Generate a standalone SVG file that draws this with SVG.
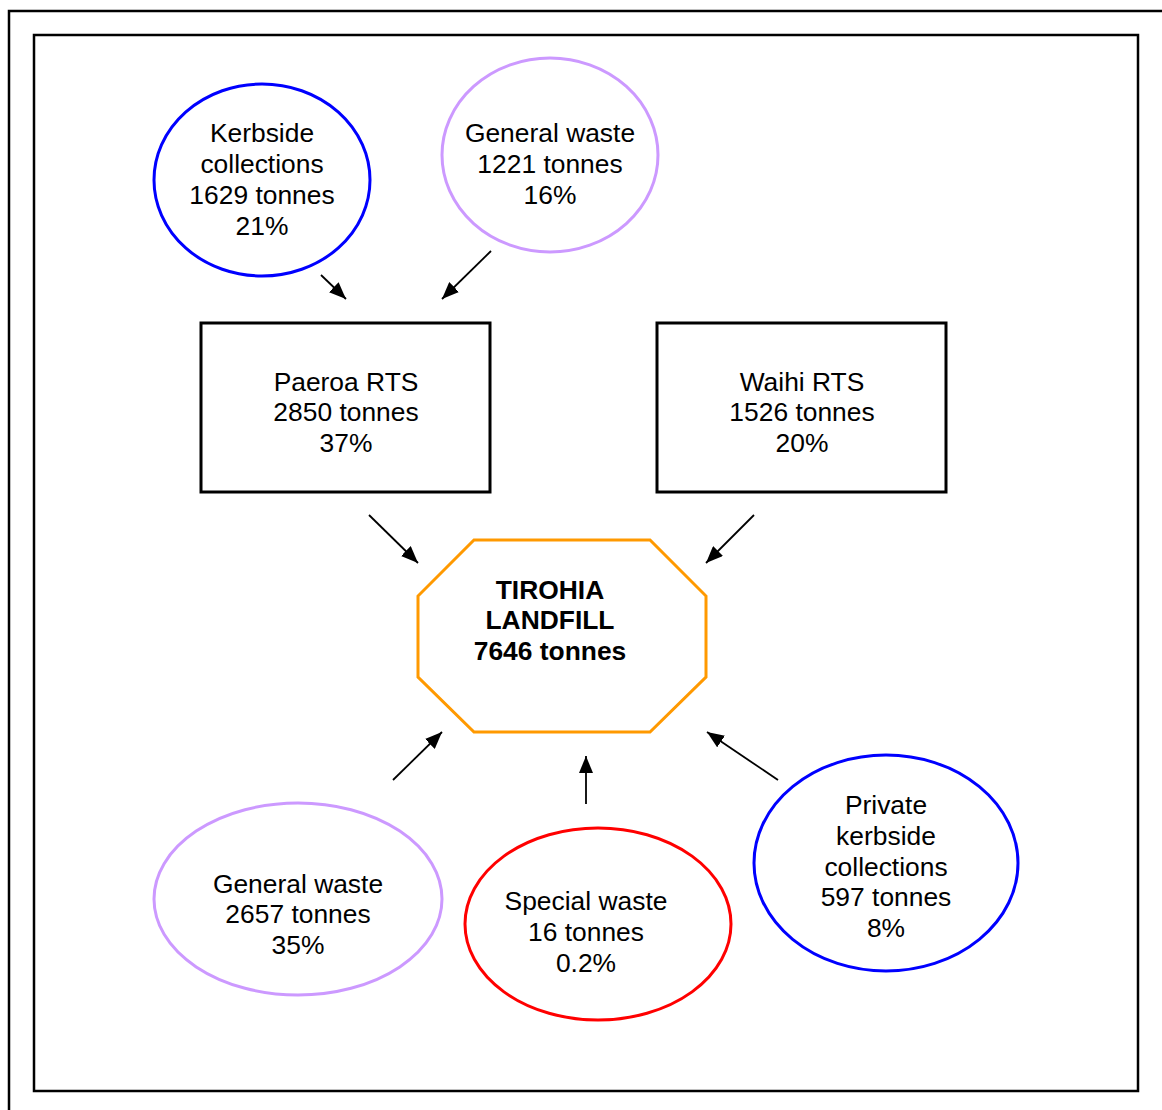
<svg xmlns="http://www.w3.org/2000/svg" width="1162" height="1110" viewBox="0 0 1162 1110">
<defs>
<style>
text{font-family:"Liberation Sans",Arial,sans-serif;font-size:26.4px;fill:#000;text-anchor:middle}
.b{font-weight:bold}
.blue{fill:none;stroke:#0000FF;stroke-width:3}
.lav{fill:none;stroke:#CC99FF;stroke-width:3}
.red{fill:none;stroke:#FF0000;stroke-width:3}
.box{fill:none;stroke:#000;stroke-width:3}
.conn line{stroke:#000;stroke-width:1.8}
</style>
<marker id="ah2" viewBox="0 0 17 14" refX="17" refY="7" markerWidth="17" markerHeight="14" markerUnits="userSpaceOnUse" orient="auto">
<path d="M0,0 L17,7 L0,14 Z" fill="#000"/>
</marker>
</defs>
<rect width="1162" height="1110" fill="#fff"/>
<rect x="9" y="11" width="1200" height="1200" fill="none" stroke="#000" stroke-width="2.5"/>
<rect x="34" y="35" width="1104" height="1056" fill="none" stroke="#000" stroke-width="2.5"/>

<g id="kerbside"><ellipse class="blue" cx="262" cy="180" rx="108" ry="96"/>
<text x="262" y="142">Kerbside</text><text x="262" y="173">collections</text><text x="262" y="204">1629 tonnes</text><text x="262" y="235">21%</text></g>

<g id="general-top"><ellipse class="lav" cx="550" cy="155" rx="108" ry="97"/>
<text x="550" y="142">General waste</text><text x="550" y="173">1221 tonnes</text><text x="550" y="204">16%</text></g>

<g id="paeroa"><rect class="box" x="201" y="323" width="289" height="169"/>
<text x="346" y="391">Paeroa RTS</text><text x="346" y="421">2850 tonnes</text><text x="346" y="452">37%</text></g>

<g id="waihi"><rect class="box" x="657" y="323" width="289" height="169"/>
<text x="802" y="391">Waihi RTS</text><text x="802" y="421">1526 tonnes</text><text x="802" y="452">20%</text></g>

<g id="landfill"><polygon points="474,540 650,540 706,596 706,677 650,732 474,732 418,677 418,596" fill="none" stroke="#FF9900" stroke-width="3"/>
<text class="b" x="550" y="599">TIROHIA</text><text class="b" x="550" y="629">LANDFILL</text><text class="b" x="550" y="660">7646 tonnes</text></g>

<g id="general-bottom"><ellipse class="lav" cx="298" cy="899" rx="144" ry="96"/>
<text x="298" y="893">General waste</text><text x="298" y="923">2657 tonnes</text><text x="298" y="954">35%</text></g>

<g id="special"><ellipse class="red" cx="598" cy="924" rx="133" ry="96"/>
<text x="586" y="910">Special waste</text><text x="586" y="941">16 tonnes</text><text x="586" y="972">0.2%</text></g>

<g id="private"><ellipse class="blue" cx="886" cy="863" rx="132" ry="108"/>
<text x="886" y="814">Private</text><text x="886" y="845">kerbside</text><text x="886" y="876">collections</text><text x="886" y="906">597 tonnes</text><text x="886" y="937">8%</text></g>

<g id="connectors" class="conn">
<line x1="321" y1="275" x2="346" y2="299" marker-end="url(#ah2)"/>
<line x1="491" y1="251" x2="442" y2="299" marker-end="url(#ah2)"/>
<line x1="369" y1="515" x2="418" y2="563" marker-end="url(#ah2)"/>
<line x1="754" y1="515" x2="706" y2="563" marker-end="url(#ah2)"/>
<line x1="393" y1="780" x2="442" y2="732" marker-end="url(#ah2)"/>
<line x1="586" y1="804" x2="586" y2="756" marker-end="url(#ah2)"/>
<line x1="778" y1="780" x2="707" y2="732" marker-end="url(#ah2)"/>
</g>
</svg>
